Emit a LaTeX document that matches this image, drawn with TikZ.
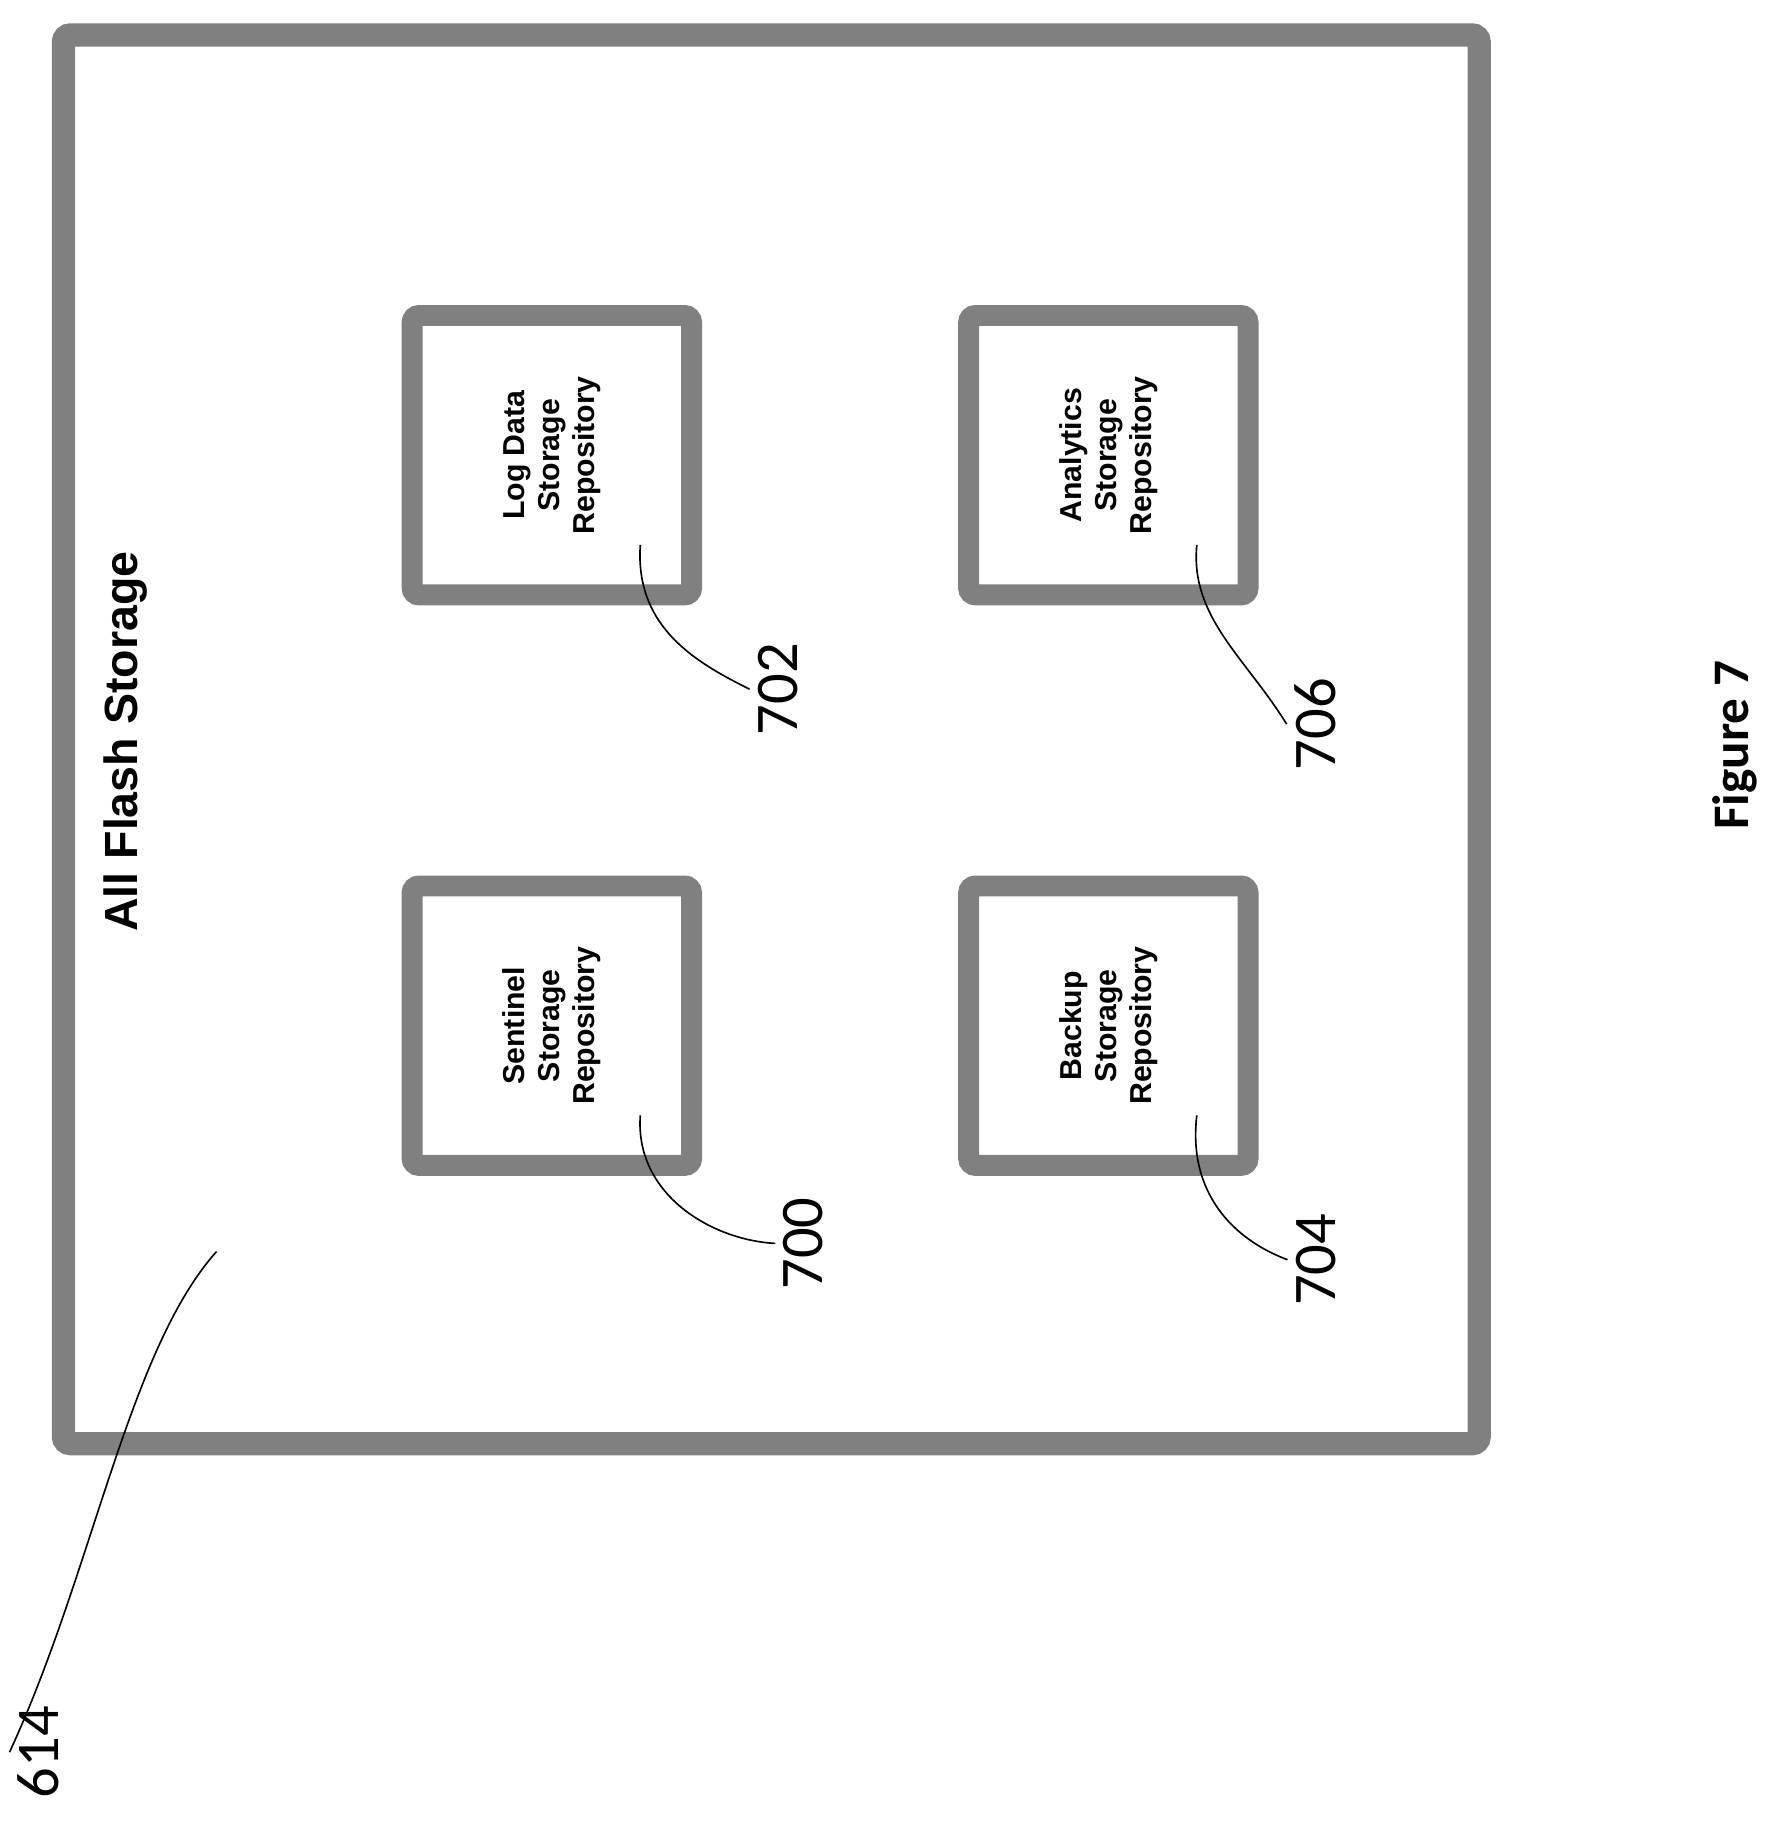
\documentclass[tikz,border=0pt]{standalone}
\usepackage{fontspec}
\setmainfont{Liberation Sans}
\newfontfamily\calib{Carlito}
\begin{document}
\begin{tikzpicture}[x=0.5pt,y=-0.5pt,
  frame/.style={draw=black!50,line width=#1,rounded corners=3pt},
  repo/.style={frame=9pt,minimum width=120pt,minimum height=120pt,inner sep=0pt},
  rtext/.style={rotate=90,align=center,font=\bfseries\fontsize{13}{15}\selectfont},
  num/.style={rotate=90,font=\calib\fontsize{26}{28}\selectfont},
  lead/.style={line width=0.7pt}]
\useasboundingbox (0,0) rectangle (1530,1565);
\node[frame=10pt,minimum width=608pt,minimum height=605pt,inner sep=0pt] (afs) at (662.5,635) {};
\node[rotate=90,font=\bfseries\fontsize{20}{22}\selectfont] (title) at (108,637) {All Flash Storage};
\node[repo] (b702) at (474,391) {};
\node[repo] (b706) at (952,391) {};
\node[repo] (b700) at (474,881) {};
\node[repo] (b704) at (952,881) {};
\node[rtext] at (b702) {Log Data\\Storage\\Repository};
\node[rtext] at (b706) {Analytics\\Storage\\Repository};
\node[rtext] at (b700) {Sentinel\\Storage\\Repository};
\node[rtext] at (b704) {Backup\\Storage\\Repository};
\node[num] (n702) at (668,592) {702};
\node[num] (n706) at (1130,622) {706};
\node[num] (n700) at (690,1068) {700};
\node[num] (n704) at (1130,1082) {704};
\node[num] (n614) at (33,1505) {614};
\node[rotate=90,font=\calib\bfseries\fontsize{22}{24}\selectfont] (fig) at (1490,640) {Figure 7};
\coordinate (s702) at (550,468);
\coordinate (s706) at (1028,468);
\coordinate (s700) at (550,958);
\coordinate (s704) at (1028,958);
\coordinate (s614) at (186,1075);
\draw[lead] (s702) .. controls (545,540) and (600,570) .. (n702.north);
\draw[lead] (s706) .. controls (1022,530) and (1070,565) .. (n706.north);
\draw[lead] (s700) .. controls (545,1025) and (610,1065) .. (n700.north);
\draw[lead] (s704) .. controls (1020,1025) and (1060,1065) .. (n704.north);
\draw[lead] (s614) .. controls (110,1160) and (80,1350) .. (n614.north);
\end{tikzpicture}
\end{document}
